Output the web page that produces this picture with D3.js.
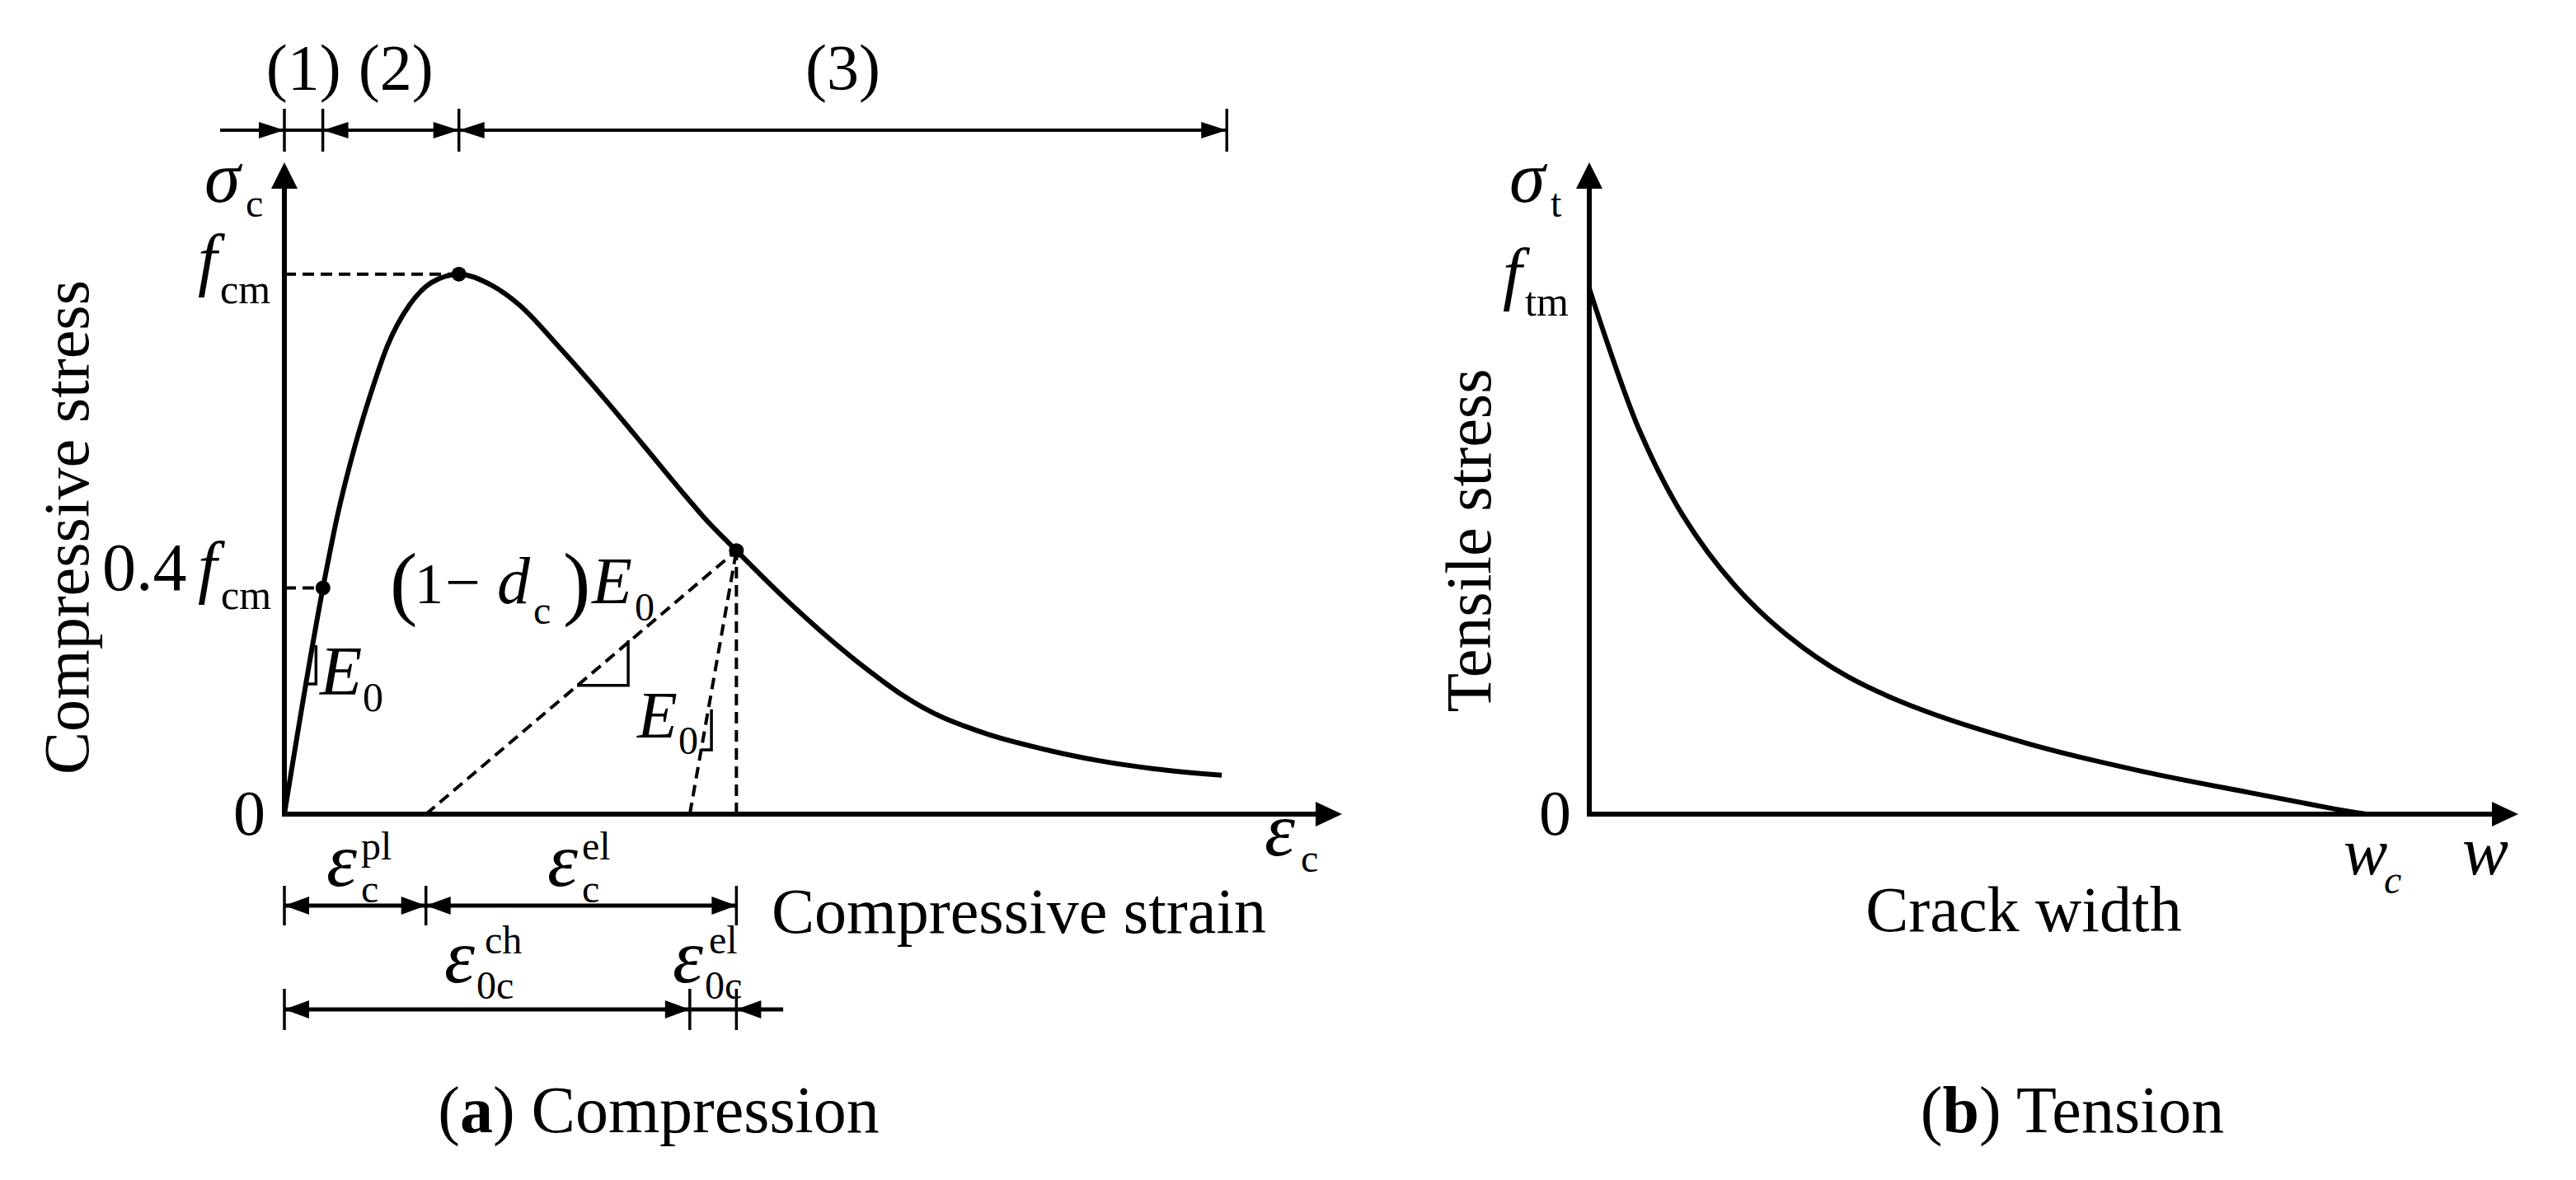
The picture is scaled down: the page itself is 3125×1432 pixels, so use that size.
<!DOCTYPE html>
<html>
<head>
<meta charset="utf-8">
<script src="https://cdn.jsdelivr.net/npm/d3@7"></script>
<style>
  body { margin: 0; background: #fff; }
  text { font-family: "Liberation Serif", "Times New Roman", serif; fill: #000; }
</style>
</head>
<body>
<div id="chart"></div>
<script>
// (a) compression: strain / peak strain, stress / fcm
var compStrain = [0, 0.221, 0.307, 0.402, 0.496, 0.590, 0.717, 0.841, 1.0, 1.189, 1.346, 1.582, 1.819, 2.055, 2.291, 2.400, 2.59, 2.872, 3.094, 3.283, 3.425, 3.543, 3.661, 3.779, 3.897, 4.039, 4.355, 4.667, 4.983, 5.371];
var compStress = [0, 0.419, 0.557, 0.679, 0.780, 0.867, 0.943, 0.984, 1.0, 0.979, 0.943, 0.862, 0.775, 0.684, 0.592, 0.551, 0.488, 0.398, 0.333, 0.282, 0.247, 0.220, 0.197, 0.178, 0.163, 0.147, 0.120, 0.099, 0.084, 0.072];

// marked points: 0.4fcm, peak, unloading point
var dotStrain = [0.221, 1.0, 2.59];
var dotStress = [0.419, 1.0, 0.488];

var stageBounds = [0, 0.22, 1.0, 5.40];
var stageLabels = ["(1)", "(2)", "(3)"];

var plasticStrain = 0.811;   // end of (1-dc)E0 unloading line
var reloadStrain = 2.323;    // foot of the E0 line
var unloadStrain = 2.59, unloadStress = 0.488;

// slope marks (strain, stress)
var markE0 = [[0.127, 0.241], [0.181, 0.241], [0.181, 0.313]];
var markDc = [[1.677, 0.2385], [1.970, 0.2385], [1.970, 0.322]];
var markE0b = [[2.386, 0.119], [2.447, 0.119], [2.447, 0.194]];

// (b) tension: w / wc, stress / ftm
var crackW = [0, 0.064, 0.121, 0.188, 0.255, 0.331, 0.427, 0.570, 0.713, 0.857, 0.952, 1.0];
var tensStress = [1.0, 0.732, 0.567, 0.434, 0.340, 0.263, 0.199, 0.132, 0.081, 0.039, 0.012, 0];

var W = 3125, H = 1432;
var svg = d3.select("#chart").append("svg")
    .attr("width", W)
    .attr("height", H);
svg.append("rect").attr("width", W).attr("height", H).attr("fill", "#fff");

var xC = d3.scaleLinear().domain([0, 6.06]).range([345, 1628]);
var yC = d3.scaleLinear().domain([0, 1.207]).range([988, 197]);
var xT = d3.scaleLinear().domain([0, 1.196]).range([1928, 3055]);
var yT = d3.scaleLinear().domain([0, 1.24]).range([988, 197]);

function hArrow(g, x, y, dir, len, hw) {
    g.append("path")
        .attr("d", "M" + x + "," + y + "L" + (x - dir * len) + "," + (y - hw) + "L" + (x - dir * len) + "," + (y + hw) + "Z")
        .attr("fill", "#000");
}
function vArrow(g, x, y, len, hw) {
    g.append("path")
        .attr("d", "M" + x + "," + y + "L" + (x - hw) + "," + (y + len) + "L" + (x + hw) + "," + (y + len) + "Z")
        .attr("fill", "#000");
}

function drawAxes(x, y) {
    var g = svg.append("g");
    var x0 = x(0), y0 = y(0), xEnd = x.range()[1], yEnd = y.range()[1];
    g.append("line").attr("x1", x0).attr("y1", y0).attr("x2", xEnd - 28).attr("y2", y0)
        .attr("stroke", "#000").attr("stroke-width", 6);
    g.append("line").attr("x1", x0).attr("y1", y0 + 3).attr("x2", x0).attr("y2", yEnd + 28)
        .attr("stroke", "#000").attr("stroke-width", 6);
    hArrow(g, xEnd, y0, 1, 32, 15);
    vArrow(g, x0, yEnd, 32, 16);
}
drawAxes(xC, yC);
drawAxes(xT, yT);

var line = d3.line().curve(d3.curveMonotoneX);
var lineT = d3.line().curve(d3.curveCatmullRom.alpha(0.5));

// compression curve
svg.append("path")
    .attr("d", line(compStrain.map(function (d, i) { return [xC(d), yC(compStress[i])]; })))
    .attr("fill", "none").attr("stroke", "#000").attr("stroke-width", 6);

// tension curve
svg.append("path")
    .attr("d", lineT(crackW.map(function (d, i) { return [xT(d), yT(tensStress[i])]; })))
    .attr("fill", "none").attr("stroke", "#000").attr("stroke-width", 6);

// dashed helper lines
var dash = svg.append("g").attr("stroke", "#000").attr("stroke-width", 4)
    .attr("stroke-dasharray", "14,8").attr("fill", "none");
dash.append("line").attr("x1", xC(0)).attr("y1", yC(1)).attr("x2", xC(1)).attr("y2", yC(1));
dash.append("line").attr("x1", xC(0)).attr("y1", yC(dotStress[0])).attr("x2", xC(dotStrain[0])).attr("y2", yC(dotStress[0]));
dash.append("line").attr("x1", xC(plasticStrain)).attr("y1", yC(0)).attr("x2", xC(unloadStrain)).attr("y2", yC(unloadStress));
dash.append("line").attr("x1", xC(reloadStrain)).attr("y1", yC(0)).attr("x2", xC(unloadStrain)).attr("y2", yC(unloadStress));
dash.append("line").attr("x1", xC(unloadStrain)).attr("y1", yC(0)).attr("x2", xC(unloadStrain)).attr("y2", yC(unloadStress));

// slope marks
[markE0, markDc, markE0b].forEach(function (m) {
    svg.append("path")
        .attr("d", d3.line()(m.map(function (p) { return [xC(p[0]), yC(p[1])]; })))
        .attr("fill", "none").attr("stroke", "#000").attr("stroke-width", 3.5);
});

// dots
svg.selectAll(".dot").data(dotStrain).enter().append("circle")
    .attr("class", "dot")
    .attr("cx", function (d) { return xC(d); })
    .attr("cy", function (d, i) { return yC(dotStress[i]); })
    .attr("r", 9).attr("fill", "#000");

// dimension lines
function dimLine(y, from, to, ticks, arrows, sw, tickH, len, hw) {
    var g = svg.append("g");
    g.append("line").attr("x1", xC(from)).attr("y1", y).attr("x2", xC(to)).attr("y2", y)
        .attr("stroke", "#000").attr("stroke-width", sw);
    ticks.forEach(function (t) {
        g.append("line").attr("x1", xC(t)).attr("y1", y - tickH).attr("x2", xC(t)).attr("y2", y + tickH)
            .attr("stroke", "#000").attr("stroke-width", 3.5);
    });
    arrows.forEach(function (a) { hArrow(g, xC(a[0]), y, a[1], len, hw); });
}
dimLine(158, -0.368, stageBounds[3], stageBounds,
    [[stageBounds[0], 1], [stageBounds[1], -1], [stageBounds[2], 1], [stageBounds[2], -1], [stageBounds[3], 1]],
    4, 26, 31, 10);
dimLine(1099, 0, unloadStrain, [0, plasticStrain, unloadStrain],
    [[0, -1], [plasticStrain, 1], [plasticStrain, -1], [unloadStrain, 1]], 5, 24, 30, 11);
dimLine(1225, 0, 2.858, [0, reloadStrain, unloadStrain],
    [[0, -1], [reloadStrain, 1], [unloadStrain, -1]], 5, 25, 30, 11);

// text helper
function t(x, y, s, size, it, anchor) {
    var e = svg.append("text").attr("x", x).attr("y", y).attr("font-size", size).text(s);
    if (it) e.attr("font-style", "italic");
    if (anchor) e.attr("text-anchor", anchor);
    return e;
}

// stage labels
stageLabels.forEach(function (s, i) {
    var cx = (xC(stageBounds[i]) + xC(stageBounds[i + 1])) / 2;
    if (i == 1) cx += 6;
    t(cx, 108, s, 78, false, "middle");
});

// left panel labels
t(248, 245, "\u03C3", 88, true); t(298, 263, "c", 48);
t(240, 343, "f", 84, true); t(267, 368, "cm", 50);
t(124, 716, "0.4", 82); t(240, 716, "f", 84, true); t(268, 739, "cm", 50);
t(388, 843, "E", 84, true); t(440, 863, "0", 50);
t(473, 740, "(", 100); t(503, 732, "1", 70); t(540, 732, "\u2212", 76);
t(603, 732, "d", 80, true); t(647, 757, "c", 48); t(683, 740, ")", 100);
t(718, 732, "E", 80, true); t(770, 753, "0", 48);
t(773, 895, "E", 80, true); t(823, 915, "0", 48);
t(322, 1013, "0", 78, false, "end");
t(1534, 1038, "\u03B5", 94, true); t(1578, 1058, "c", 48);
t(396, 1075, "\u03B5", 94, true); t(438, 1095, "c", 48); t(438, 1043, "pl", 48);
t(664, 1075, "\u03B5", 94, true); t(706, 1095, "c", 48); t(706, 1043, "el", 48);
t(539, 1192, "\u03B5", 94, true); t(578, 1212, "0c", 48); t(588, 1157, "ch", 48);
t(816, 1192, "\u03B5", 94, true); t(855, 1212, "0c", 48); t(860, 1157, "el", 48);
t(936, 1132, "Compressive strain", 78);
svg.append("text").attr("transform", "translate(107,640) rotate(-90)")
    .attr("text-anchor", "middle").attr("font-size", 78).text("Compressive stress");

var capA = t(799, 1374, "", 80, false, "middle");
capA.append("tspan").text("(");
capA.append("tspan").attr("font-weight", "bold").text("a");
capA.append("tspan").text(") Compression");

// right panel labels
t(1831, 245, "\u03C3", 88, true); t(1881, 263, "t", 48);
t(1823, 360, "f", 84, true); t(1850, 383, "tm", 50);
t(1906, 1013, "0", 78, false, "end");
t(2843, 1061, "w", 80, true); t(2892, 1084, "c", 48, true);
t(2987, 1061, "w", 84, true);
svg.append("text").attr("transform", "translate(1808,656) rotate(-90)")
    .attr("text-anchor", "middle").attr("font-size", 78).text("Tensile stress");
t(2455, 1130, "Crack width", 78, false, "middle");

var capB = t(2514, 1374, "", 80, false, "middle");
capB.append("tspan").text("(");
capB.append("tspan").attr("font-weight", "bold").text("b");
capB.append("tspan").text(") Tension");
</script>
</body>
</html>
